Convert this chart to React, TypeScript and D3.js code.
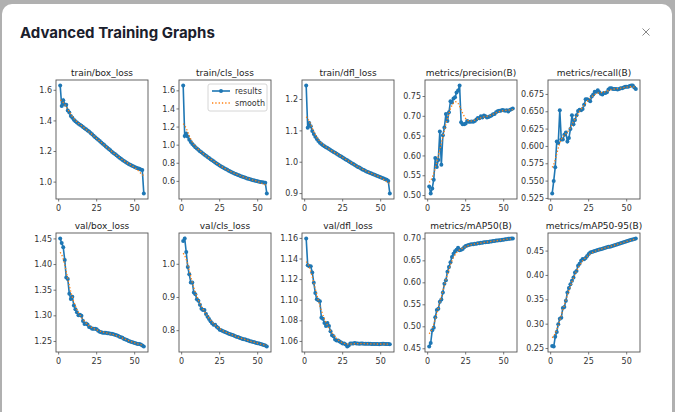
import React from "react";
import * as d3 from "d3";

const epochs = d3.range(1, 57);

const trainBoxLoss = [1.632,1.497,1.535,1.508,1.505,1.468,1.455,1.432,1.420,1.408,
 1.398,1.390,1.382,1.375,1.368,1.360,1.352,1.346,1.337,1.330,
 1.321,1.312,1.303,1.294,1.285,1.277,1.268,1.259,1.250,1.242,
 1.233,1.224,1.216,1.208,1.199,1.191,1.183,1.175,1.167,1.159,
 1.152,1.145,1.138,1.131,1.125,1.119,1.113,1.108,1.103,1.099,
 1.094,1.090,1.087,1.083,1.079,0.925];
const trainClsLoss = [1.660,1.100,1.130,1.095,1.060,1.035,1.012,0.995,0.978,0.962,
 0.948,0.934,0.921,0.908,0.895,0.882,0.869,0.857,0.845,0.833,
 0.821,0.809,0.797,0.786,0.775,0.765,0.755,0.745,0.736,0.727,
 0.718,0.709,0.701,0.693,0.685,0.678,0.671,0.664,0.657,0.651,
 0.645,0.639,0.633,0.628,0.623,0.618,0.613,0.609,0.605,0.601,
 0.597,0.594,0.591,0.588,0.585,0.465];
const trainDflLoss = [1.245,1.110,1.125,1.115,1.100,1.090,1.081,1.074,1.068,1.062,
 1.058,1.054,1.051,1.048,1.045,1.042,1.039,1.036,1.033,1.030,
 1.027,1.024,1.021,1.018,1.015,1.012,1.009,1.006,1.003,1.000,
 0.997,0.994,0.991,0.988,0.985,0.983,0.980,0.977,0.975,0.972,
 0.970,0.968,0.966,0.964,0.962,0.960,0.958,0.956,0.954,0.952,
 0.950,0.948,0.946,0.944,0.940,0.900];
const precision = [0.523,0.505,0.518,0.540,0.595,0.572,0.590,0.662,0.578,0.652,
 0.672,0.706,0.688,0.710,0.738,0.735,0.745,0.748,0.760,0.765,
 0.778,0.685,0.680,0.680,0.682,0.688,0.686,0.686,0.687,0.686,
 0.688,0.692,0.696,0.695,0.700,0.697,0.702,0.700,0.697,0.698,
 0.700,0.702,0.705,0.706,0.710,0.713,0.714,0.714,0.716,0.715,
 0.714,0.715,0.712,0.716,0.718,0.720];
const recall = [0.532,0.550,0.570,0.607,0.605,0.652,0.610,0.610,0.617,0.620,
 0.607,0.612,0.625,0.645,0.632,0.638,0.645,0.651,0.653,0.652,
 0.654,0.660,0.668,0.668,0.667,0.665,0.672,0.675,0.679,0.679,
 0.681,0.678,0.676,0.675,0.677,0.677,0.678,0.682,0.684,0.684,
 0.683,0.683,0.683,0.682,0.683,0.684,0.684,0.685,0.686,0.686,
 0.686,0.687,0.688,0.688,0.685,0.683];
const valBoxLoss = [1.451,1.442,1.434,1.409,1.375,1.372,1.343,1.333,1.337,1.320,
 1.313,1.307,1.301,1.302,1.300,1.290,1.284,1.285,1.283,1.278,
 1.277,1.275,1.275,1.275,1.274,1.271,1.269,1.268,1.267,1.267,
 1.267,1.266,1.266,1.265,1.265,1.264,1.263,1.262,1.261,1.259,
 1.258,1.257,1.255,1.254,1.253,1.251,1.250,1.249,1.248,1.247,
 1.246,1.245,1.245,1.244,1.242,1.240];
const valClsLoss = [1.070,1.078,1.037,0.992,0.970,0.945,0.945,0.915,0.910,0.895,
 0.890,0.878,0.866,0.862,0.862,0.850,0.842,0.835,0.828,0.822,
 0.818,0.818,0.812,0.808,0.803,0.801,0.799,0.797,0.795,0.793,
 0.791,0.789,0.788,0.786,0.784,0.782,0.781,0.779,0.777,0.775,
 0.774,0.773,0.771,0.770,0.768,0.767,0.766,0.765,0.763,0.762,
 0.761,0.760,0.758,0.757,0.755,0.752];
const valDflLoss = [1.160,1.134,1.133,1.133,1.127,1.117,1.107,1.101,1.100,1.099,
 1.083,1.082,1.078,1.075,1.078,1.075,1.070,1.066,1.065,1.062,
 1.061,1.061,1.060,1.059,1.058,1.058,1.057,1.055,1.056,1.058,
 1.058,1.058,1.0585,1.058,1.058,1.0578,1.058,1.058,1.0578,1.0577,
 1.0577,1.0578,1.0577,1.0576,1.0576,1.0575,1.0575,1.0574,1.0572,1.0575,
 1.0578,1.0578,1.0576,1.0575,1.0574,1.0572];
const mAP50 = [0.455,0.463,0.492,0.498,0.522,0.538,0.541,0.557,0.562,0.578,
 0.598,0.606,0.625,0.636,0.647,0.659,0.666,0.672,0.675,0.680,
 0.674,0.675,0.677,0.681,0.684,0.685,0.686,0.687,0.688,0.688,
 0.689,0.689,0.690,0.690,0.691,0.691,0.692,0.692,0.693,0.693,
 0.694,0.694,0.695,0.695,0.696,0.696,0.697,0.697,0.698,0.698,
 0.699,0.699,0.700,0.700,0.701,0.701];
const mAP5095 = [0.255,0.254,0.274,0.284,0.300,0.311,0.313,0.333,0.335,0.348,
 0.365,0.374,0.382,0.389,0.396,0.406,0.409,0.420,0.424,0.430,
 0.434,0.433,0.436,0.440,0.444,0.447,0.448,0.449,0.450,0.451,
 0.452,0.453,0.454,0.455,0.456,0.457,0.458,0.459,0.459,0.460,
 0.461,0.462,0.463,0.464,0.465,0.466,0.467,0.468,0.469,0.470,
 0.471,0.472,0.473,0.474,0.475,0.476];

const panelTitles = ["train/box_loss","train/cls_loss","train/dfl_loss","metrics/precision(B)","metrics/recall(B)",
  "val/box_loss","val/cls_loss","val/dfl_loss","metrics/mAP50(B)","metrics/mAP50-95(B)"];
const panelSeries = [trainBoxLoss, trainClsLoss, trainDflLoss, precision, recall,
  valBoxLoss, valClsLoss, valDflLoss, mAP50, mAP5095];
const yTickValues = [
  [1.0,1.2,1.4,1.6],
  [0.6,0.8,1.0,1.2,1.4,1.6],
  [0.9,1.0,1.1,1.2],
  [0.50,0.55,0.60,0.65,0.70,0.75],
  [0.525,0.550,0.575,0.600,0.625,0.650,0.675],
  [1.25,1.30,1.35,1.40,1.45],
  [0.8,0.9,1.0],
  [1.06,1.08,1.10,1.12,1.14,1.16],
  [0.45,0.50,0.55,0.60,0.65,0.70],
  [0.25,0.30,0.35,0.40,0.45],
];
const yTickDecimals = [1,1,1,2,3,2,1,2,2,2];
const xTickValues = [0,25,50];
const legendLabels = ["results","smooth"];

const BLUE = "#1f77b4";
const ORANGE = "#ff7f0e";
const FONT = "DejaVu Sans, sans-serif";

// the chart's own smoothing: gaussian filter (sigma 3, reflect mode) of the results
function gaussianSmooth(y: number[], sigma = 3): number[] {
  const r = Math.round(4 * sigma);
  const w = d3.range(-r, r + 1).map((k) => Math.exp((-0.5 * k * k) / (sigma * sigma)));
  const s = d3.sum(w);
  const n = y.length;
  const idx = (i: number) => {
    while (i < 0 || i >= n) {
      if (i < 0) i = -i - 1;
      else i = 2 * n - i - 1;
    }
    return i;
  };
  return y.map((_, i) => d3.sum(w.map((wk, j) => wk * y[idx(i + j - r)])) / s);
}

const PW = 92;
const PH = 119;
const colLeft = (c: number) => 56 + c * 123;
const rowTop = [80, 233];

function Panel({ index }: { index: number }) {
  const values = panelSeries[index];
  const smooth = gaussianSmooth(values);
  const x0 = colLeft(index % 5);
  const y0 = rowTop[Math.floor(index / 5)];
  const [lo, hi] = d3.extent(values.concat(smooth)) as [number, number];
  const pad = (hi - lo) * 0.05;
  const y = d3.scaleLinear().domain([lo - pad, hi + pad]).range([y0 + PH, y0]);
  const xr = epochs[epochs.length - 1] - epochs[0];
  const x = d3.scaleLinear().domain([epochs[0] - xr * 0.05, epochs[epochs.length - 1] + xr * 0.05]).range([x0, x0 + PW]);
  const line = d3.line<number>().x((_, i) => x(epochs[i])).y((d) => y(d));
  const fmt = d3.format(`.${yTickDecimals[index]}f`);
  return (
    <g>
      <defs>
        <clipPath id={`clip${index}`}>
          <rect x={x0} y={y0} width={PW} height={PH} />
        </clipPath>
      </defs>
      <text x={x0 + PW / 2} y={y0 - 4} textAnchor="middle" fontSize={9} fill="#222" fontFamily={FONT}>
        {panelTitles[index]}
      </text>
      <g clipPath={`url(#clip${index})`}>
        <path d={line(values) || ""} fill="none" stroke={BLUE} strokeWidth={1.6} />
        {values.map((v, i) => (
          <circle key={i} cx={x(epochs[i])} cy={y(v)} r={2} fill={BLUE} />
        ))}
        <path d={line(smooth) || ""} fill="none" stroke={ORANGE} strokeWidth={1.3} strokeDasharray="1.3 2" />
      </g>
      <rect x={x0} y={y0} width={PW} height={PH} fill="none" stroke="#555" strokeWidth={0.9} />
      {yTickValues[index].map((t) => (
        <g key={t}>
          <line x1={x0 - 2.5} x2={x0} y1={y(t)} y2={y(t)} stroke="#555" strokeWidth={0.8} />
          <text x={x0 - 4} y={y(t)} dy="0.33em" textAnchor="end" fontSize={8} fill="#333" fontFamily={FONT}>
            {fmt(t)}
          </text>
        </g>
      ))}
      {xTickValues.map((t) => (
        <g key={t}>
          <line x1={x(t)} x2={x(t)} y1={y0 + PH} y2={y0 + PH + 2.5} stroke="#555" strokeWidth={0.8} />
          <text x={x(t)} y={y0 + PH + 11.5} textAnchor="middle" fontSize={8} fill="#333" fontFamily={FONT}>
            {t}
          </text>
        </g>
      ))}
      {index === 1 && (
        <g>
          <rect x={x0 + 29} y={y0 + 4} width={59} height={27} rx={2} fill="white" fillOpacity={0.85} stroke="#ccc" strokeWidth={0.8} />
          <line x1={x0 + 33} x2={x0 + 51} y1={y0 + 11} y2={y0 + 11} stroke={BLUE} strokeWidth={1.6} />
          <circle cx={x0 + 42} cy={y0 + 11} r={2} fill={BLUE} />
          <text x={x0 + 56} y={y0 + 11} dy="0.33em" fontSize={8} fill="#333" fontFamily={FONT}>{legendLabels[0]}</text>
          <line x1={x0 + 33} x2={x0 + 51} y1={y0 + 23} y2={y0 + 23} stroke={ORANGE} strokeWidth={1.3} strokeDasharray="1.3 2" />
          <text x={x0 + 56} y={y0 + 23} dy="0.33em" fontSize={8} fill="#333" fontFamily={FONT}>{legendLabels[1]}</text>
        </g>
      )}
    </g>
  );
}

export default function App() {
  return (
    <svg width={675} height={412} style={{ position: "fixed", left: 0, top: 0 }}>
      <rect x={0} y={0} width={675} height={412} fill="#b0b0b0" />
      <rect x={2} y={4} width={670} height={440} rx={10} fill="#ffffff" />
      <text x={20} y={38} fontSize={15} fontWeight={700} fill="#1a202c" fontFamily="Inter, sans-serif">
        Advanced Training Graphs
      </text>
      <g stroke="#888" strokeWidth={1}>
        <line x1={642.5} y1={28.5} x2={649.5} y2={35.5} />
        <line x1={649.5} y1={28.5} x2={642.5} y2={35.5} />
      </g>
      {panelTitles.map((_, i) => (
        <Panel key={i} index={i} />
      ))}
    </svg>
  );
}
